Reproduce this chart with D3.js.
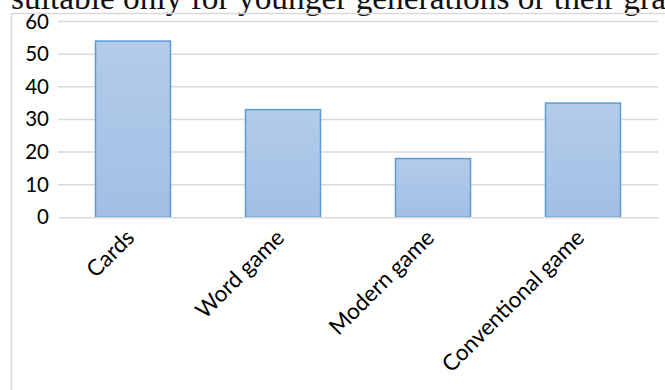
<!DOCTYPE html>
<html>
<head>
<meta charset="utf-8">
<script src="https://cdn.jsdelivr.net/npm/d3@7"></script>
<style>
  html, body { margin: 0; padding: 0; background: #fff; }
  svg { display: block; }
</style>
</head>
<body>
<svg id="chart" width="665" height="390"></svg>
<script>
// Survey results: number of respondents per game type
const categories = ["Cards", "Word game", "Modern game", "Conventional game"];
const values = [54, 33, 18, 35];
const yTicks = [0, 10, 20, 30, 40, 50, 60];
const headerLine = "suitable only for younger generations or their grandparents";

const W = 665, H = 390;
const plot = { left: 58, right: 658, top: 21.5, bottom: 217.3 };

const svg = d3.select("#chart");

// gradient fill for bars
const defs = svg.append("defs");
const grad = defs.append("linearGradient")
  .attr("id", "barFill").attr("x1", 0).attr("y1", 0).attr("x2", 0).attr("y2", 1);
grad.append("stop").attr("offset", "0%").attr("stop-color", "#b2cce9");
grad.append("stop").attr("offset", "100%").attr("stop-color", "#a2bfe5");

// running text line above the chart; sized so "...their gra" reaches the right edge
const header = svg.append("text")
  .attr("x", 11).attr("y", 9)
  .attr("font-family", "'Liberation Serif', 'DejaVu Serif', serif")
  .attr("font-size", 20)
  .attr("fill", "#111")
  .text(headerLine);
const cutAt = headerLine.indexOf("grandparents") + 3;
const partLen = header.node().getSubStringLength(0, cutAt);
header.attr("font-size", 20 * (W + 1 - 11) / partLen);

// chart frame
svg.append("rect")
  .attr("x", 11.5).attr("y", 13.5)
  .attr("width", W + 10).attr("height", H + 10)
  .attr("fill", "none").attr("stroke", "#d9d9d9").attr("stroke-width", 1.5);

const x = d3.scaleBand().domain(categories)
  .range([plot.left, plot.right]).paddingInner(0.5).paddingOuter(0.25);
const y = d3.scaleLinear().domain([0, 60]).range([plot.bottom, plot.top]);

// gridlines
svg.append("g").selectAll("line").data(yTicks.filter(d => d > 0)).join("line")
  .attr("x1", plot.left).attr("x2", plot.right)
  .attr("y1", d => y(d)).attr("y2", d => y(d))
  .attr("stroke", "#d9d9d9").attr("stroke-width", 1.5);

// y axis labels
const yAxis = svg.append("g")
  .attr("transform", `translate(${plot.left},0)`)
  .call(d3.axisLeft(y).tickValues(yTicks).tickSize(0).tickPadding(9));
yAxis.select(".domain").remove();
yAxis.selectAll("text")
  .attr("font-family", "Lato, 'Open Sans', sans-serif")
  .attr("font-size", 20.5)
  .attr("fill", "#000");

// bars
svg.append("g").selectAll("rect").data(values).join("rect")
  .attr("x", (d, i) => x(categories[i]))
  .attr("y", d => y(d))
  .attr("width", x.bandwidth())
  .attr("height", d => y(0) - y(d))
  .attr("fill", "url(#barFill)")
  .attr("stroke", "#5b9bd5").attr("stroke-width", 1.5);

// category axis (baseline)
const xAxis = svg.append("g")
  .attr("transform", `translate(0,${plot.bottom})`)
  .call(d3.axisBottom(x).tickSize(0).tickSizeOuter(0));
xAxis.select(".domain").attr("stroke", "#d9d9d9").attr("stroke-width", 1.5);
xAxis.selectAll("text")
  .attr("font-family", "Lato, 'Open Sans', sans-serif")
  .attr("font-size", 22.5)
  .attr("fill", "#000")
  .attr("text-anchor", "end")
  .attr("dy", "0.35em")
  .attr("transform", "translate(-5,14) rotate(-45)");
</script>
</body>
</html>
